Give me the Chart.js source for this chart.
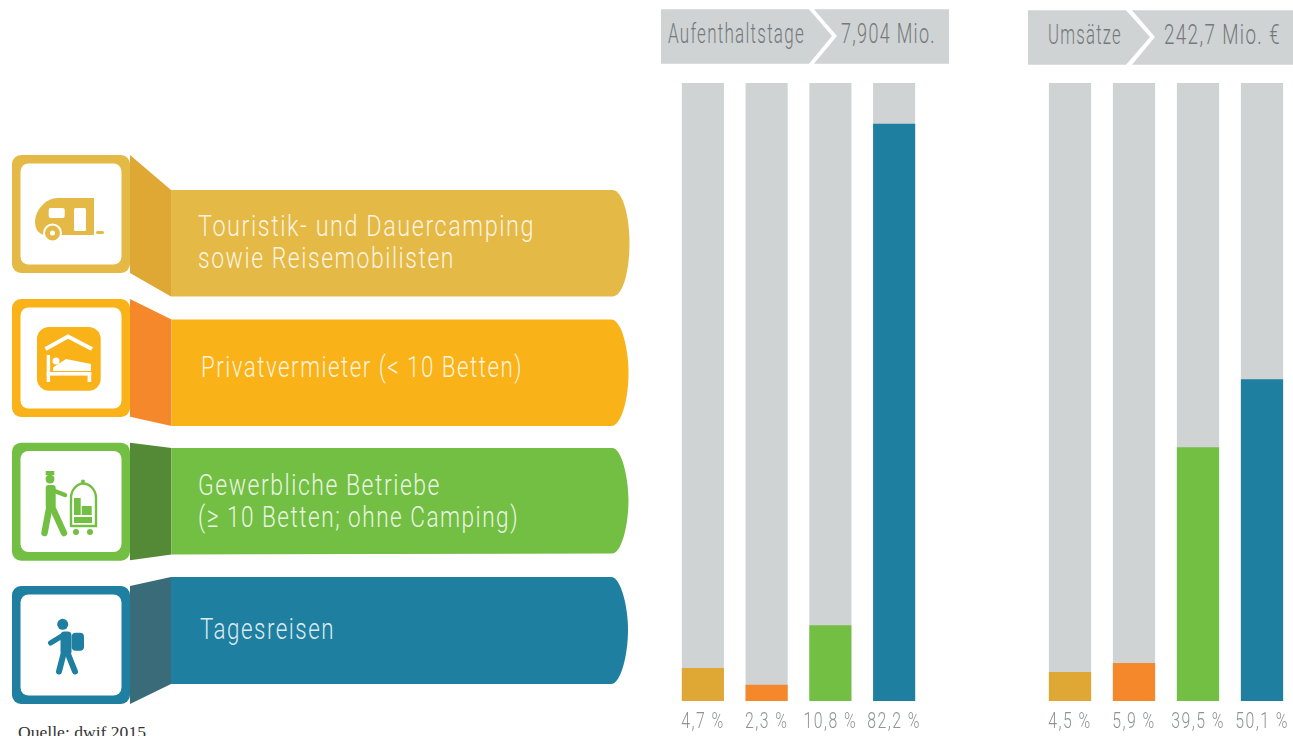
<!DOCTYPE html>
<html lang="de">
<head>
<meta charset="utf-8">
<title>Aufenthaltstage und Umsätze</title>
<script src="https://cdn.jsdelivr.net/npm/chart.js@4/dist/chart.umd.js"></script>
<style>
    html, body { margin: 0; padding: 0; background: #fff; }
    body { position: relative; width: 1293px; height: 736px; overflow: hidden; }
    svg { position: absolute; left: 0; top: 0; }
    canvas { position: absolute; top: 83px; }
    #aufenthaltChart { left: 671px; }
    #umsatzChart { left: 1038px; }
    .band { font-family: "Roboto", sans-serif; font-weight: 300; font-size: 30px; letter-spacing: 2px; fill: #fff; fill-opacity: .86; }
    .kopf { font-family: "Roboto", sans-serif; font-weight: 300; font-size: 27px; letter-spacing: 2px; fill: #74797c; }
    .quelle { font-family: "Liberation Serif", serif; font-size: 16px; fill: #333; }
</style>
</head>
<body>
<svg width="1293" height="736" viewBox="0 0 1293 736">
    <!-- Kopfzeilen -->
    <g fill="#cfd3d4">
        <path d="M661,9.3H809L832,36L809,63.7H661Z"/>
        <path d="M814,9.3H949V63.7H814L837,36Z"/>
        <path d="M1028,10.3H1126L1150,37L1126,64.7H1028Z"/>
        <path d="M1132,10.3H1293V64.7H1132L1155,37Z"/>
    </g>
    <text class="kopf" x="668" y="43" textLength="137" lengthAdjust="spacingAndGlyphs">Aufenthaltstage</text>
    <text class="kopf" x="841" y="43" textLength="95" lengthAdjust="spacingAndGlyphs">7,904 Mio.</text>
    <text class="kopf" x="1048" y="44" textLength="74" lengthAdjust="spacingAndGlyphs">Umsätze</text>
    <text class="kopf" x="1164" y="44" textLength="117" lengthAdjust="spacingAndGlyphs">242,7 Mio. €</text>

    <!-- Camping -->
    <path fill="#dfa733" d="M130,155L171,190V296.5L130,273Z"/>
    <rect x="12" y="155" width="118" height="118" rx="9" fill="#e5b945"/>
    <rect x="20.5" y="163.5" width="101" height="101" rx="8" fill="#fff"/>
    <path fill="#e5b945" d="M171,190H612C624,190 629.5,220 629.5,243C629.5,268 624,296.5 612,296.5H171Z"/>
    <g fill="#e5b945">
        <path d="M94,198H58C45,198 35,211 35,222C35,229 39,235 46,235H94Z"/>
        <circle cx="52.5" cy="233" r="8.5" stroke="#fff" stroke-width="2"/>
        <rect x="96" y="231" width="8" height="3" rx="1.5"/>
    </g>
    <rect x="48.7" y="208" width="16" height="10" rx="2" fill="#fff"/>
    <rect x="74" y="208" width="12" height="23" rx="1.5" fill="#fff"/>
    <circle cx="52.5" cy="233" r="2.5" fill="#fff"/>
    <text class="band" x="198" y="236" textLength="337" lengthAdjust="spacingAndGlyphs">Touristik- und Dauercamping</text>
    <text class="band" x="198" y="268" textLength="257" lengthAdjust="spacingAndGlyphs">sowie Reisemobilisten</text>

    <!-- Privatvermieter -->
    <path fill="#f6882c" d="M130,299L171.5,319.5V426L130,416.8Z"/>
    <rect x="12" y="299" width="118" height="118" rx="9" fill="#fab219"/>
    <rect x="20.5" y="307.5" width="101" height="101" rx="8" fill="#fff"/>
    <path fill="#fab219" d="M171.5,319.5H611C622,319.5 628.5,350 628.5,373C628.5,397 622,426 611,426H171.5Z"/>
    <rect x="37" y="327" width="63.7" height="63.7" rx="12" fill="#fab219"/>
    <path d="M45.5,349L68,336.5L92,349" fill="none" stroke="#fff" stroke-width="4"/>
    <g fill="#fff">
        <rect x="46.7" y="355" width="3.4" height="27"/>
        <rect x="46.7" y="372" width="44.5" height="3.6"/>
        <rect x="87.6" y="372" width="3.6" height="10"/>
        <circle cx="56" cy="361" r="3.5"/>
        <path d="M53,367.5L66,359L91,364V371H53Z"/>
    </g>
    <text class="band" x="201" y="377" textLength="322" lengthAdjust="spacingAndGlyphs">Privatvermieter (&lt; 10 Betten)</text>

    <!-- Gewerbliche Betriebe -->
    <path fill="#548a35" d="M130,442.7L171.5,448V554.5L130,560.3Z"/>
    <rect x="12" y="442.7" width="118" height="118" rx="9" fill="#73bf44"/>
    <rect x="20.5" y="451" width="101" height="101" rx="8" fill="#fff"/>
    <path fill="#73bf44" d="M171.5,448H612C622,448 628.5,478 628.5,500C628.5,524 622,553.5 612,553.5L171.5,554.5Z"/>
    <g fill="#73bf44">
        <rect x="45.7" y="471" width="8.6" height="4"/>
        <circle cx="50" cy="479" r="4.5"/>
        <rect x="45.7" y="485" width="10" height="24" rx="3"/>
        <circle cx="83" cy="481.5" r="2"/>
        <rect x="74" y="498" width="6.7" height="17"/>
        <rect x="81.7" y="506" width="10" height="9"/>
        <rect x="74" y="517" width="18" height="6"/>
        <circle cx="76" cy="532" r="3"/>
        <circle cx="90" cy="532" r="3"/>
    </g>
    <g fill="none" stroke="#73bf44" stroke-linecap="round">
        <path d="M52,490L65,495" stroke-width="4.5"/>
        <path d="M49,509L44.5,533" stroke-width="6.5"/>
        <path d="M53,509L64,533" stroke-width="6.5"/>
        <path d="M71,526V498C71,490 77,483.5 83,483.5C90,483.5 96,490 96,498V526H71" stroke-width="2.4"/>
    </g>
    <text class="band" x="198" y="495" textLength="243" lengthAdjust="spacingAndGlyphs">Gewerbliche Betriebe</text>
    <text class="band" x="198" y="527" textLength="321" lengthAdjust="spacingAndGlyphs">(≥ 10 Betten; ohne Camping)</text>

    <!-- Tagesreisen -->
    <path fill="#396b78" d="M130,586L171,577V684L130,704Z"/>
    <rect x="12" y="586" width="118" height="118" rx="9" fill="#1e7fa1"/>
    <rect x="20.5" y="594.5" width="101" height="101" rx="8" fill="#fff"/>
    <path fill="#1e7fa1" d="M171,577H611C621,577 628,607 628,630C628,654 621,684 611,684H171Z"/>
    <g fill="#1e7fa1">
        <circle cx="62.7" cy="624.3" r="5.5"/>
        <rect x="71.7" y="632.7" width="12.3" height="18" rx="4"/>
        <rect x="60.5" y="631.5" width="11" height="24" rx="4"/>
    </g>
    <g fill="none" stroke="#1e7fa1" stroke-linecap="round">
        <path d="M50.5,643L62,636" stroke-width="5"/>
        <path d="M63.5,654L59,671.5" stroke-width="6"/>
        <path d="M68,654L75,671.5" stroke-width="6"/>
    </g>
    <text class="band" x="200" y="639" textLength="135" lengthAdjust="spacingAndGlyphs">Tagesreisen</text>

    <text class="quelle" x="18" y="738" textLength="128" lengthAdjust="spacingAndGlyphs">Quelle: dwif 2015</text>
</svg>
<canvas id="aufenthaltChart" width="255" height="653"></canvas>
<canvas id="umsatzChart" width="256" height="653"></canvas>

<script>
const segmente = ['Camping', 'Privatvermieter', 'Gewerbliche Betriebe', 'Tagesreisen'];
const farben = ['#dfa733', '#f6882c', '#73bf44', '#1e7fa1'];

const aufenthaltstage = [4.7, 2.3, 10.8, 82.2];
const aufenthaltLabels = ['4,7 %', '2,3 %', '10,8 %', '82,2 %'];
const aufenthaltMax = 88;

const umsaetze = [4.5, 5.9, 39.5, 50.1];
const umsatzLabels = ['4,5 %', '5,9 %', '39,5 %', '50,1 %'];
const umsatzMax = 96.2;

// schmale Prozentzahlen unter den Balken, horizontal gestaucht
const prozentLabels = {
    id: 'prozentLabels',
    afterDraw(chart, args, opts) {
        const { ctx } = chart;
        const x = chart.scales.x;
        ctx.save();
        ctx.font = '300 22px Roboto';
        ctx.letterSpacing = '2px';
        ctx.fillStyle = '#8f9396';
        ctx.textAlign = 'center';
        ctx.textBaseline = 'middle';
        opts.texte.forEach((text, i) => {
            ctx.save();
            ctx.translate(x.getPixelForValue(i), chart.chartArea.bottom + 21);
            ctx.scale(0.72, 1);
            ctx.fillText(text, 0, 0);
            ctx.restore();
        });
        ctx.restore();
    }
};

function balkenChart(id, werte, labels, maximum) {
    const ctx = document.getElementById(id).getContext('2d');
    return new Chart(ctx, {
        type: 'bar',
        data: {
            labels: segmente,
            datasets: [
                {
                    label: 'Anteil',
                    data: werte,
                    backgroundColor: farben,
                    order: 1
                },
                {
                    // grauer Hintergrundbalken bis zum Achsenende
                    label: 'Gesamt',
                    data: segmente.map(() => maximum),
                    backgroundColor: '#cfd3d4',
                    order: 2
                }
            ]
        },
        options: {
            responsive: false,
            animation: false,
            layout: { padding: { bottom: 35 } },
            datasets: {
                bar: { grouped: false, categoryPercentage: 1, barPercentage: 0.66 }
            },
            scales: {
                x: { display: false },
                y: { display: false, min: 0, max: maximum }
            },
            plugins: {
                legend: { display: false },
                tooltip: { enabled: false },
                prozentLabels: { texte: labels }
            }
        },
        plugins: [prozentLabels]
    });
}

balkenChart('aufenthaltChart', aufenthaltstage, aufenthaltLabels, aufenthaltMax);
balkenChart('umsatzChart', umsaetze, umsatzLabels, umsatzMax);
</script>
</body>
</html>
